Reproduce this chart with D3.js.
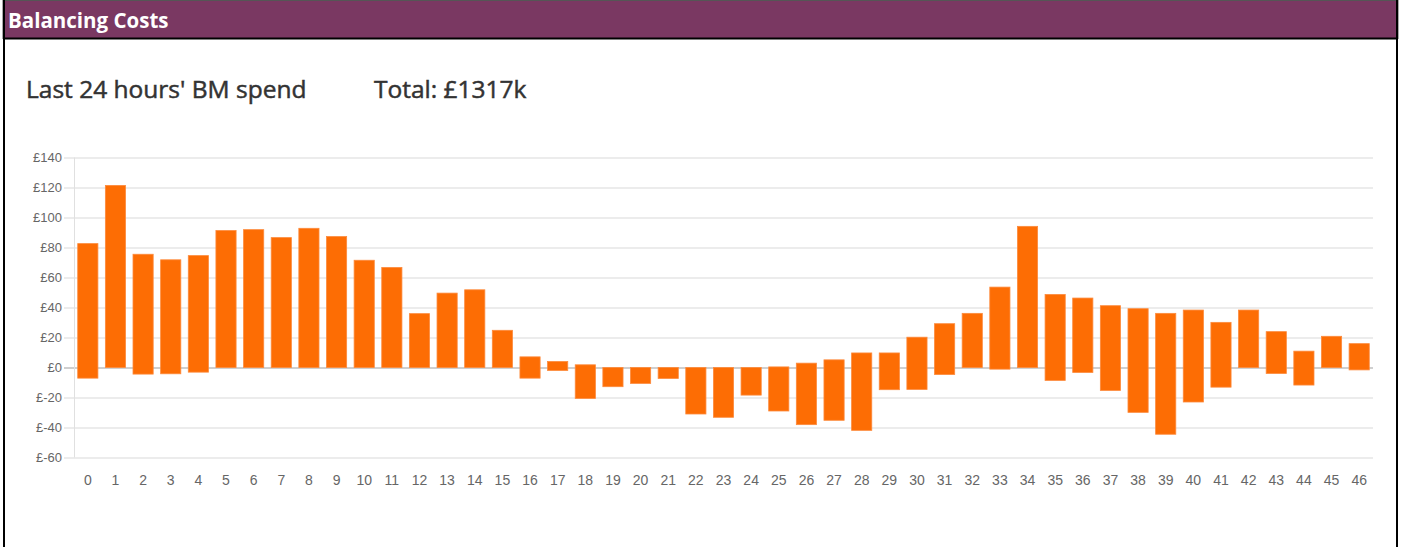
<!DOCTYPE html>
<html>
<head>
<meta charset="utf-8">
<script src="https://cdn.jsdelivr.net/npm/d3@7"></script>
<style>
  body { margin: 0; background: #fff; }
</style>
</head>
<body>
<script>
'use strict';

// settlement period labels along the bottom
var periods = d3.range(0, 47).map(String);

// top of each bar (£k)
var barTops = [82.6, 121.4, 75.5, 71.8, 74.6, 91.3, 91.9, 86.6, 92.8, 87.3,
               71.5, 66.7, 35.9, 49.6, 51.8, 24.8, 7.1, 4.0, 1.8, 0,
               0, 0, 0, 0, 0, 0.4, 2.9, 5.1, 9.7, 9.7,
               20.2, 29.2, 36.1, 53.6, 94.1, 48.7, 46.3, 41.2, 39.2, 36.1,
               38.3, 30.1, 38.3, 23.9, 10.9, 20.8, 15.9];

// bottom of each bar (£k)
var barBottoms = [-7.1, 0, -4.4, -4.2, -3.1, 0, 0, 0, 0, 0,
                  0, 0, 0, 0, 0, 0, -7.1, -2.0, -20.6, -12.8,
                  -10.6, -7.3, -31.0, -33.2, -18.4, -29.0, -38.1, -35.2, -41.9, -14.8,
                  -14.6, -4.7, 0, -1.1, 0, -8.6, -3.3, -15.3, -29.9, -44.5,
                  -23.0, -13.1, 0, -4.0, -11.7, 0, -1.6];

var yTicks = [-60, -40, -20, 0, 20, 40, 60, 80, 100, 120, 140];

var headerTitle = "Balancing Costs";
var chartTitle = "Last 24 hours' BM spend";
var totalLabel = "Total: £1317k";

var W = 1402, H = 547;

var svg = d3.select("body")
        .append("svg")
        .attr("width", W)
        .attr("height", H)
        .style("display", "block");

// panel frame + header strip
svg.append("rect")
   .attr("x", 0).attr("y", 0).attr("width", W).attr("height", H)
   .attr("fill", "#fff");

svg.append("rect")
   .attr("x", 3).attr("y", 0.5).attr("width", 1395).attr("height", 38)
   .attr("fill", "#7a3862")
   .attr("stroke", "#555").attr("stroke-width", 1);

svg.append("line")
   .attr("x1", 3).attr("x2", 1398).attr("y1", 38.5).attr("y2", 38.5)
   .attr("stroke", "#000").attr("stroke-width", 2);

svg.append("line") // left border
   .attr("x1", 4).attr("x2", 4).attr("y1", 0).attr("y2", H)
   .attr("stroke", "#000").attr("stroke-width", 2);

svg.append("line") // right border
   .attr("x1", 1397).attr("x2", 1397).attr("y1", 0).attr("y2", H)
   .attr("stroke", "#000").attr("stroke-width", 2);

svg.append("text")
   .attr("x", 8).attr("y", 28)
   .attr("font-family", "'Open Sans', Lato, sans-serif")
   .attr("font-weight", "bold")
   .attr("font-size", 20.5)
   .attr("fill", "#fff")
   .text(headerTitle);

// titles, slightly thickened to match the heavier original
svg.append("text")
   .attr("x", 26).attr("y", 98)
   .attr("font-family", "'Open Sans', Lato, sans-serif")
   .attr("font-size", 24.5)
   .attr("fill", "#333")
   .attr("stroke", "#333").attr("stroke-width", 0.5)
   .text(chartTitle);

svg.append("text")
   .attr("x", 374).attr("y", 98)
   .attr("font-family", "'Open Sans', Lato, sans-serif")
   .attr("font-size", 24.5)
   .attr("fill", "#333")
   .attr("stroke", "#333").attr("stroke-width", 0.5)
   .text(totalLabel);

// scales
var xScale = d3.scaleBand()
        .range([74, 1373])
        .paddingInner(0.27)
        .paddingOuter(0.135)
        .domain(periods);

var yScale = d3.scaleLinear()
        .range([457.5, 157.5])
        .domain([-60, 140]);

var g = svg.append("g");

// gridlines
g.append("g")
 .attr("class", "grid")
 .attr("transform", "translate(1373,0)")
 .call(d3.axisLeft(yScale).tickValues(yTicks).tickSize(1373 - 64).tickFormat(""))
 .call(function(s) {
     s.select(".domain").remove();
     s.selectAll(".tick line")
      .attr("stroke", function(d) { return d === 0 ? "#cfcfcf" : "#ececec"; })
      .attr("stroke-width", 2);
 });

// y axis labels
g.append("g")
 .attr("transform", "translate(62,0)")
 .call(d3.axisLeft(yScale).tickValues(yTicks).tickSize(0).tickPadding(0)
        .tickFormat(function(d) { return "£" + d; }))
 .call(function(s) {
     s.select(".domain").remove();
     s.selectAll("text")
      .attr("font-family", "'Liberation Sans', Arial, sans-serif")
      .attr("font-size", 13)
      .attr("fill", "#666");
 });

// y axis line
g.append("line")
 .attr("x1", 74.5).attr("x2", 74.5)
 .attr("y1", yScale(140)).attr("y2", yScale(-60))
 .attr("stroke", "#e0e0e0").attr("stroke-width", 1);

// x axis labels
g.append("g")
 .attr("transform", "translate(0,475)")
 .call(d3.axisBottom(xScale).tickSize(0).tickPadding(0))
 .call(function(s) {
     s.select(".domain").remove();
     s.selectAll("text")
      .attr("dy", "0.71em")
      .attr("font-family", "'Liberation Sans', Arial, sans-serif")
      .attr("font-size", 14)
      .attr("fill", "#666");
 });

// bars
var barData = periods.map(function(p, i) {
    return {period: p, top: barTops[i], bottom: barBottoms[i]};
});

g.selectAll(".bar")
 .data(barData)
 .enter()
 .append("rect")
 .attr("class", "bar")
 .attr("x", function(d) { return xScale(d.period); })
 .attr("width", xScale.bandwidth())
 .attr("y", function(d) { return yScale(d.top); })
 .attr("height", function(d) { return yScale(d.bottom) - yScale(d.top); })
 .attr("fill", "#fd6d04")
 .attr("stroke", "#fd8a3c")
 .attr("stroke-width", 0.8);
</script>
</body>
</html>
